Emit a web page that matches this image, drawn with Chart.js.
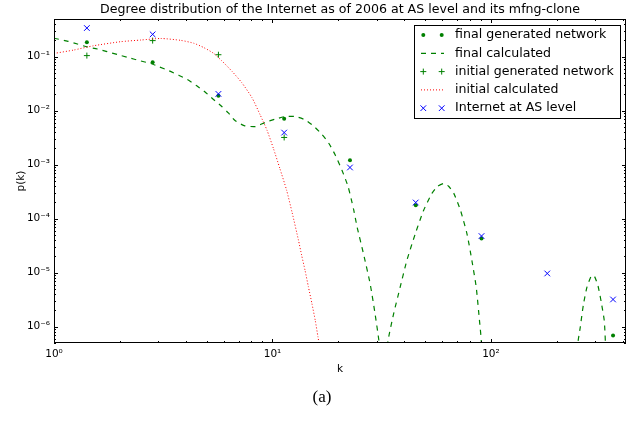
<!DOCTYPE html>
<html>
<head>
<meta charset="utf-8">
<title>Degree distribution of the Internet</title>
<script src="https://cdn.jsdelivr.net/npm/chart.js@4.4.1/dist/chart.umd.min.js"></script>
<style>
    html, body { margin: 0; padding: 0; background: #fff; }
    canvas { display: block; }
</style>
</head>
<body>
<canvas id="degreeChart" width="639" height="423"></canvas>
<script>
// log-binned degree values (bin centres)
const binK = [1.414, 2.828, 5.657, 11.31, 22.63, 45.25, 90.51, 181.0, 362.0];
const finalGenerated = [0.185, 0.079, 0.019, 0.0071, 0.00121, 1.78e-4, 4.3e-5, null, 6.9e-7];
const initialGenerated = [0.105, 0.199, 0.109, 0.0032, null, null, null, null, null];
const internetAS = [0.34, 0.26, 0.0205, 0.00394, 0.00089, 2.0e-4, 4.78e-5, 9.7e-6, 3.2e-6];

// calculated curves (values below the axis mean the curve leaves the plot)
const finalCalcK = [1, 1.15, 1.28, 1.42, 1.58, 1.75, 1.95, 2.18, 2.45, 2.77, 3.03, 3.36, 3.74, 4.08,
    4.5, 4.9, 5.37, 5.86, 6.28, 6.74, 7.42, 8.35, 9.28, 10.3, 11.4, 12.7, 14.1, 15.5, 16.8, 18.1,
    19.4, 20.8, 22.2, 23.5, 24.4, 26.1, 28, 29.5, 30.7, 32.2, 33.8, 35.8, 38.4, 41.2, 45, 49.2,
    53.7, 57, 60.8, 64, 67.6, 72.5, 77.7, 81.8, 85.6, 88.6, 90.3, 91.5, 150, 248, 250, 256, 265,
    275, 287, 292, 298, 309, 320, 330, 334, 336];
const finalCalcP = [0.22, 0.195, 0.172, 0.152, 0.139, 0.124, 0.11, 0.097, 0.085, 0.075, 0.065, 0.055,
    0.045, 0.038, 0.029, 0.0225, 0.0162, 0.012, 0.0091, 0.0066, 0.0053, 0.0051, 0.0061, 0.007,
    0.0078, 0.0078, 0.0068, 0.0051, 0.0037, 0.0025, 0.0015, 0.00079, 0.00039, 1.5e-4, 7e-5,
    2.24e-5, 6.2e-6, 1.7e-6, 5.5e-7, 1e-7, 5.5e-7, 1.7e-6, 5.4e-6, 1.68e-5, 5.2e-5, 1.44e-4,
    2.95e-4, 4.0e-4, 4.5e-4, 4.0e-4, 2.95e-4, 1.44e-4, 5.2e-5, 1.68e-5, 5.4e-6, 1.3e-6, 5.5e-7,
    1e-7, null, 1e-7, 5e-7, 9.5e-7, 2.6e-6, 5.4e-6, 8.5e-6, 8.9e-6, 8.5e-6, 5.7e-6, 2.8e-6, 1.3e-6,
    5e-7, 1e-7];
const initialCalcK = [1, 1.23, 1.52, 2.02, 2.5, 3.08, 3.81, 4.38, 4.86, 5.37, 5.86, 6.52, 7.24, 8.06,
    8.78, 9.43, 10.1, 10.8, 11.6, 12.3, 13.15, 13.6, 14.1, 14.6, 15.15, 15.7, 16.15, 16.8];
const initialCalcP = [0.115, 0.133, 0.16, 0.19, 0.204, 0.218, 0.201, 0.177, 0.147, 0.116, 0.084, 0.054,
    0.033, 0.0174, 0.0084, 0.0044, 0.002, 8.6e-4, 3.4e-4, 1.3e-4, 4.0e-5, 2.1e-5, 1.1e-5, 5.5e-6,
    2.7e-6, 1.3e-6, 6.5e-7, 2.5e-7];

// axis ranges and tick labels
const xRange = [1, 415];
const yRange = [5e-7, 0.5];
const xTicks = [1, 10, 100];
const xTickLabels = ['10⁰', '10¹', '10²'];
const yTicks = [1e-6, 1e-5, 1e-4, 1e-3, 1e-2, 1e-1];
const yTickLabels = ['10⁻⁶', '10⁻⁵', '10⁻⁴', '10⁻³', '10⁻²', '10⁻¹'];

const titleText = 'Degree distribution of the Internet as of 2006 at AS level and its mfng-clone';
const FONT = "'DejaVu Sans', sans-serif";

/**
 * zip two arrays into {x, y} points
 */
function toPoints(xs, ys) {
    return xs.map((x, i) => ({ x: x, y: ys[i] }));
}

/**
 * draw inward tick marks on all four sides plus the frame
 */
const frameTicksPlugin = {
    id: 'frameTicks',
    afterDatasetsDraw(chart) {
        const ctx = chart.ctx;
        const a = chart.chartArea;
        const xs = chart.scales.x;
        const ys = chart.scales.y;
        ctx.save();
        ctx.strokeStyle = '#000';
        ctx.lineWidth = 1;
        ctx.beginPath();

        for (let e = Math.floor(Math.log10(xs.min)); e <= Math.ceil(Math.log10(xs.max)); e++) {
            for (let m = 1; m <= 9; m++) {
                let v = m * Math.pow(10, e);
                if (v < xs.min || v > xs.max) continue;
                let px = Math.round(xs.getPixelForValue(v)) + 0.5;
                let len = m === 1 ? 4 : 2;
                ctx.moveTo(px, a.bottom);
                ctx.lineTo(px, a.bottom - len);
                ctx.moveTo(px, a.top);
                ctx.lineTo(px, a.top + len);
            }
        }
        for (let e = Math.floor(Math.log10(ys.min)); e <= Math.ceil(Math.log10(ys.max)); e++) {
            for (let m = 1; m <= 9; m++) {
                let v = m * Math.pow(10, e);
                if (v < ys.min || v > ys.max) continue;
                let py = Math.round(ys.getPixelForValue(v)) + 0.5;
                let len = m === 1 ? 4 : 2;
                ctx.moveTo(a.left, py);
                ctx.lineTo(a.left + len, py);
                ctx.moveTo(a.right, py);
                ctx.lineTo(a.right - len, py);
            }
        }
        ctx.stroke();
        ctx.strokeRect(Math.round(a.left) + 0.5, Math.round(a.top) + 0.5,
            Math.round(a.width) - 1, Math.round(a.height) - 1);
        ctx.restore();
    }
};

/**
 * title, axis labels, caption and the boxed legend
 */
const textPlugin = {
    id: 'texts',
    afterDraw(chart) {
        const ctx = chart.ctx;
        const a = chart.chartArea;
        const cx = (a.left + a.right) / 2;
        ctx.save();
        ctx.fillStyle = '#000';
        ctx.textBaseline = 'middle';
        ctx.textAlign = 'center';

        ctx.font = '12.6px ' + FONT;
        ctx.fillText(titleText, cx, 10);

        ctx.font = '10.5px ' + FONT;
        ctx.fillText('k', cx, 369);
        ctx.save();
        ctx.translate(21, (a.top + a.bottom) / 2);
        ctx.rotate(-Math.PI / 2);
        ctx.fillText('p(k)', 0, 0);
        ctx.restore();

        ctx.font = "17px 'Liberation Serif', serif";
        ctx.fillText('(a)', 322, 398);

        drawLegend(chart);
        ctx.restore();
    }
};

/**
 * matplotlib style legend (two markers per entry)
 */
function drawLegend(chart) {
    const ctx = chart.ctx;
    const left = 414.5, top = 25.5, width = 206, height = 93;
    ctx.save();
    ctx.fillStyle = '#fff';
    ctx.fillRect(left, top, width, height);
    ctx.strokeStyle = '#000';
    ctx.lineWidth = 1;
    ctx.strokeRect(left, top, width, height);

    chart.data.datasets.forEach((ds, i) => {
        let cy = 35 + i * 18.3;
        if (ds.showLine !== false) {
            ctx.save();
            ctx.strokeStyle = ds.borderColor;
            ctx.lineWidth = ds.borderWidth;
            ctx.setLineDash(ds.borderDash || []);
            ctx.beginPath();
            ctx.moveTo(421, cy);
            ctx.lineTo(444, cy);
            ctx.stroke();
            ctx.restore();
        }
        if (ds.pointRadius > 0) {
            ctx.save();
            ctx.fillStyle = ds.pointBackgroundColor;
            ctx.strokeStyle = ds.pointBorderColor;
            ctx.lineWidth = ds.pointBorderWidth;
            [423.3, 441.7].forEach(px => {
                Chart.helpers.drawPoint(ctx, {
                    pointStyle: ds.pointStyle,
                    radius: ds.pointRadius,
                    rotation: 0,
                    borderWidth: ds.pointBorderWidth
                }, px, cy);
            });
            ctx.restore();
        }
        ctx.fillStyle = '#000';
        ctx.textAlign = 'left';
        ctx.textBaseline = 'middle';
        ctx.font = '12.6px ' + FONT;
        ctx.fillText(ds.label, 455, cy);
    });
    ctx.restore();
}

/**
 * build the log-log chart
 */
function createChart() {
    let ctx = document.getElementById('degreeChart').getContext('2d');
    return new Chart(ctx, {
        type: 'line',
        data: {
            datasets: [
                {
                    label: 'final generated network',
                    data: toPoints(binK, finalGenerated),
                    showLine: false,
                    pointStyle: 'circle',
                    pointRadius: 2,
                    pointBackgroundColor: '#008000',
                    pointBorderColor: '#008000',
                    pointBorderWidth: 0,
                    order: 5
                },
                {
                    label: 'final calculated',
                    data: toPoints(finalCalcK, finalCalcP),
                    borderColor: '#008000',
                    borderWidth: 1.2,
                    borderDash: [5, 5],
                    pointRadius: 0,
                    tension: 0.2,
                    spanGaps: false,
                    order: 4
                },
                {
                    label: 'initial generated network',
                    data: toPoints(binK, initialGenerated),
                    showLine: false,
                    pointStyle: 'cross',
                    pointRadius: 3,
                    pointBackgroundColor: '#008000',
                    pointBorderColor: '#008000',
                    pointBorderWidth: 1,
                    order: 3
                },
                {
                    label: 'initial calculated',
                    data: toPoints(initialCalcK, initialCalcP),
                    borderColor: '#ff0000',
                    borderWidth: 1,
                    borderDash: [1, 2],
                    pointRadius: 0,
                    tension: 0.2,
                    order: 2
                },
                {
                    label: 'Internet at AS level',
                    data: toPoints(binK, internetAS),
                    showLine: false,
                    pointStyle: 'crossRot',
                    pointRadius: 4,
                    pointBackgroundColor: '#0000ff',
                    pointBorderColor: '#0000ff',
                    pointBorderWidth: 1,
                    order: 1
                }
            ]
        },
        options: {
            responsive: false,
            animation: false,
            events: [],
            layout: { padding: { left: 0, top: 19, right: 13, bottom: 0 } },
            plugins: {
                legend: { display: false },
                tooltip: { enabled: false },
                title: { display: false }
            },
            scales: {
                x: {
                    type: 'logarithmic',
                    min: xRange[0],
                    max: xRange[1],
                    grid: { display: false, drawTicks: false },
                    border: { display: false },
                    afterBuildTicks: (scale) => { scale.ticks = xTicks.map(v => ({ value: v })); },
                    afterFit: (scale) => { scale.height = 80; },
                    ticks: {
                        autoSkip: false,
                        maxRotation: 0,
                        padding: 5,
                        color: '#000',
                        font: { family: FONT, size: 10.5 },
                        callback: (value) => xTickLabels[xTicks.indexOf(value)]
                    }
                },
                y: {
                    type: 'logarithmic',
                    min: yRange[0],
                    max: yRange[1],
                    grid: { display: false, drawTicks: false },
                    border: { display: false },
                    afterBuildTicks: (scale) => { scale.ticks = yTicks.map(v => ({ value: v })); },
                    afterFit: (scale) => { scale.width = 54; },
                    ticks: {
                        autoSkip: false,
                        padding: 4,
                        color: '#000',
                        font: { family: FONT, size: 10.5 },
                        callback: (value) => yTickLabels[yTicks.indexOf(value)]
                    }
                }
            }
        },
        plugins: [frameTicksPlugin, textPlugin]
    });
}

createChart();
</script>
</body>
</html>
